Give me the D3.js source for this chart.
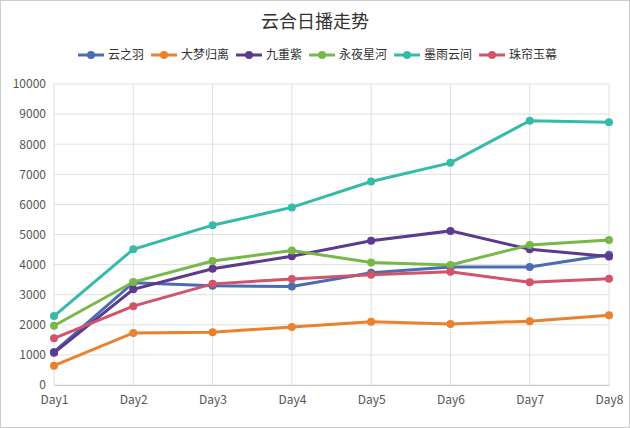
<!DOCTYPE html><html><head><meta charset="utf-8"><script src="https://cdn.jsdelivr.net/npm/d3@7"></script>
<style>body{margin:0;background:#fff}svg{display:block}</style></head><body><svg id="c" width="630" height="428"></svg>
<script>
const categories=["Day1","Day2","Day3","Day4","Day5","Day6","Day7","Day8"];
const seriesNames=["云之羽","大梦归离","九重紫","永夜星河","墨雨云间","珠帘玉幕"];
const colors=["#4a6cb3","#e8822f","#5b3a8f","#78b84a","#35bba8","#d0546a"];
const s1=[1100,3400,3300,3270,3730,3920,3920,4330];
const s2=[640,1730,1750,1930,2100,2030,2120,2320];
const s3=[1070,3180,3860,4280,4790,5120,4510,4270];
const s4=[1970,3420,4120,4470,4070,3990,4650,4820];
const s5=[2290,4510,5310,5900,6760,7380,8780,8730];
const s6=[1550,2620,3360,3520,3660,3760,3410,3530];
const yTicks=[0,1000,2000,3000,4000,5000,6000,7000,8000,9000,10000];
const series=[s1,s2,s3,s4,s5,s6];
const svg=d3.select("#c");
const F="'Noto Sans CJK SC','Noto Sans',sans-serif";
svg.append("rect").attr("x",0.5).attr("y",0.5).attr("width",629).attr("height",427).attr("fill","#fff").attr("stroke","#ccc");
svg.append("text").attr("x",315).attr("y",28).attr("text-anchor","middle").attr("font-family",F).attr("font-size",18).attr("fill","#333").text("云合日播走势");
const x=d3.scalePoint().domain(categories).range([54,609]);
const y=d3.scaleLinear().domain([0,10000]).range([385,84]);
const g=svg.append("g");
g.selectAll(".hg").data(yTicks).join("line").attr("x1",54).attr("x2",609).attr("y1",d=>y(d)).attr("y2",d=>y(d)).attr("stroke","#e0e0e0");
g.selectAll(".vg").data(categories).join("line").attr("x1",d=>x(d)).attr("x2",d=>x(d)).attr("y1",84).attr("y2",385).attr("stroke","#e0e0e0");
const ya=svg.append("g").attr("transform","translate(54,0)").call(d3.axisLeft(y).tickValues(yTicks).tickSize(0).tickPadding(8).tickFormat(d3.format("d")));
ya.select(".domain").remove();
ya.selectAll("text").attr("font-family",F).attr("font-size",12).attr("fill","#555");
const xa=svg.append("g").attr("transform","translate(0,385)").call(d3.axisBottom(x).tickSize(0).tickPadding(10));
xa.select(".domain").attr("stroke","#ccc");
xa.selectAll("text").attr("font-family",F).attr("font-size",12).attr("fill","#555");
const line=d3.line().x((d,i)=>x(categories[i])).y(d=>y(d));
series.forEach((s,k)=>{
 svg.append("path").attr("d",line(s)).attr("fill","none").attr("stroke",colors[k]).attr("stroke-width",3);
 svg.append("g").selectAll("circle").data(s).join("circle").attr("cx",(d,i)=>x(categories[i])).attr("cy",d=>y(d)).attr("r",4).attr("fill",colors[k]);
});
// legend
const lg=svg.append("g").attr("font-family",F).attr("font-size",12);
let lx=78;
seriesNames.forEach((n,k)=>{
 const it=lg.append("g").attr("transform",`translate(${lx},55)`);
 it.append("line").attr("x1",0).attr("x2",26).attr("stroke",colors[k]).attr("stroke-width",3);
 it.append("circle").attr("cx",13).attr("r",4).attr("fill",colors[k]);
 const t=it.append("text").attr("x",30).attr("y",4).attr("fill","#333").text(n);
 lx+=30+t.node().getComputedTextLength()+7;
});
</script></body></html>
